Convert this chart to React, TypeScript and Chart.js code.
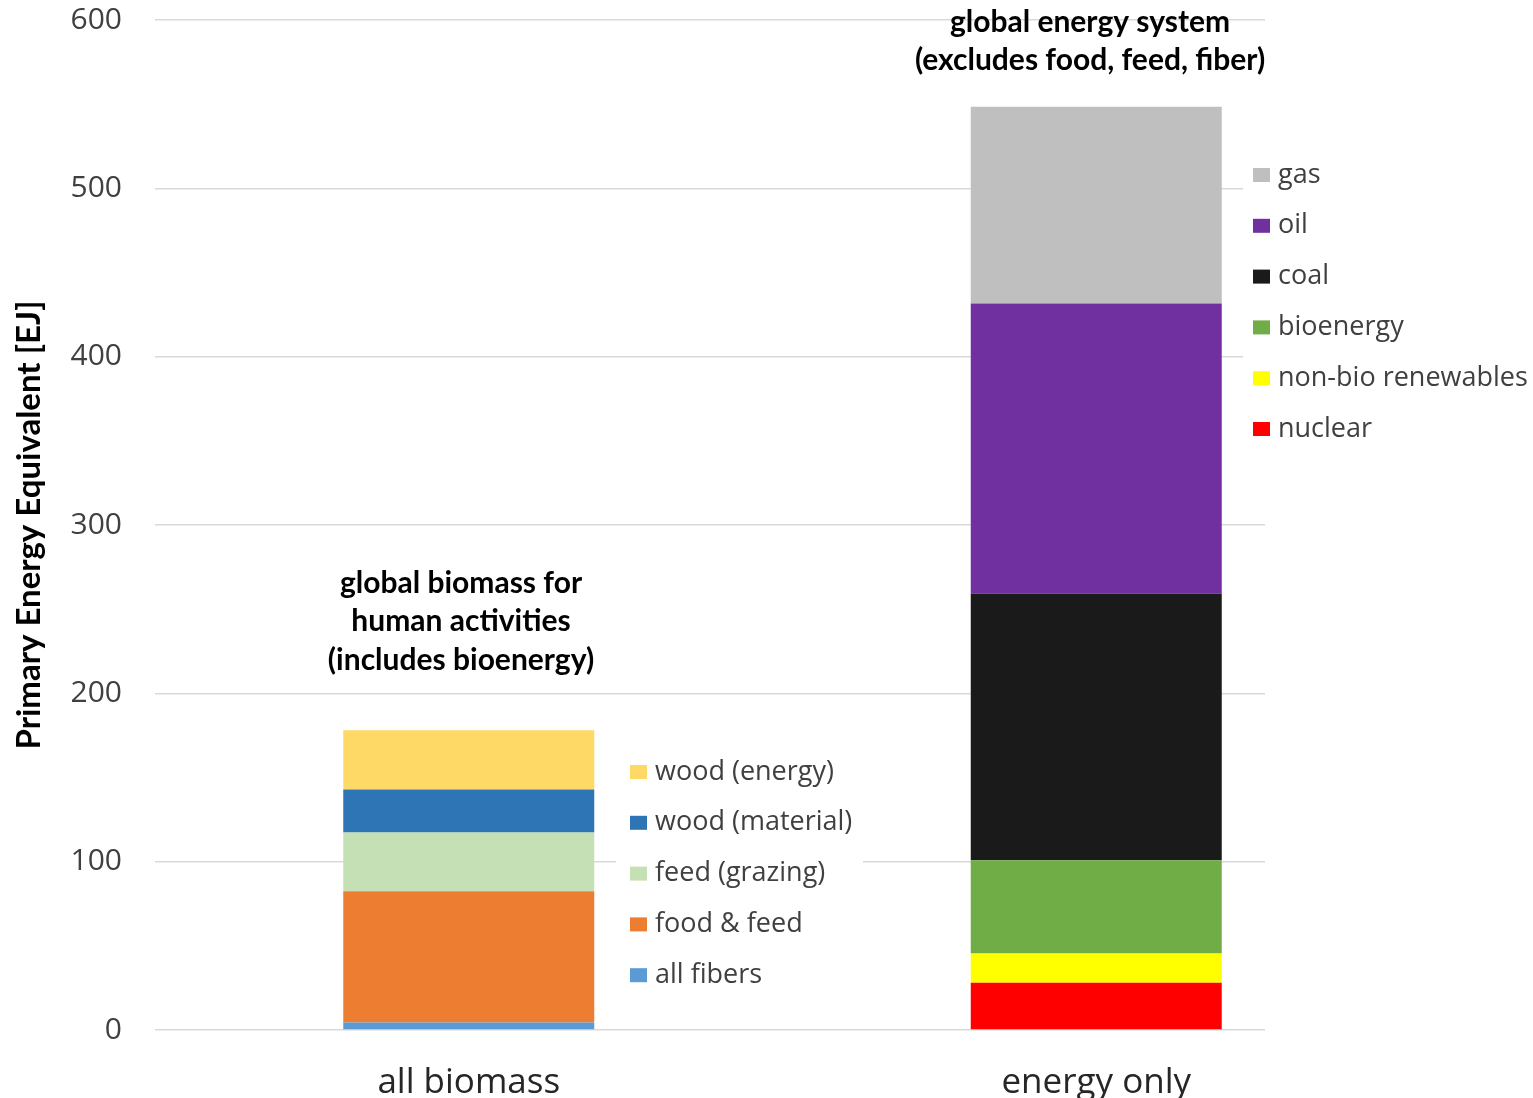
import React, { useEffect, useRef } from "react";
import { Chart, registerables } from "chart.js";

Chart.register(...registerables);

const CATEGORIES = ["all biomass", "energy only"];

const BIOMASS_SERIES = ["all fibers", "food & feed", "feed (grazing)", "wood (material)", "wood (energy)"];
const BIOMASS_VALUES = [4.5, 78, 34.8, 25.5, 35.2];
const BIOMASS_COLORS = ["#5B9BD5", "#ED7D31", "#C5E0B4", "#2E75B6", "#FFD966"];

const ENERGY_SERIES = ["nuclear", "non-bio renewables", "bioenergy", "coal", "oil", "gas"];
const ENERGY_VALUES = [28.1, 17.4, 55.4, 158.3, 172.4, 116.8];
const ENERGY_COLORS = ["#FF0000", "#FFFF00", "#70AD47", "#1A1A1A", "#7030A0", "#BFBFBF"];

const Y_TICKS = [0, 100, 200, 300, 400, 500, 600];

const BIOMASS_NOTE = ["global biomass for", "human activities", "(includes bioenergy)"];
const ENERGY_NOTE = ["global energy system", "(excludes food, feed, fiber)"];
const Y_TITLE = "Primary Energy Equivalent [EJ]";

const TEXT_FONT = "'Open Sans', sans-serif";
const BOLD_FONT = "Lato, 'Open Sans', sans-serif";

const maskPlugin = {
  id: "masks",
  beforeDatasetsDraw(chart: any) {
    const ctx = chart.ctx;
    const { bottom, right } = chart.chartArea;
    ctx.save();
    ctx.fillStyle = "#ffffff";
    // area beyond the drawn gridlines
    ctx.fillRect(1265, 0, right + 10 - 1265, bottom + 3);
    // legend boxes (white fill hiding gridlines)
    ctx.fillRect(1243, 140, 300, 310);
    ctx.fillRect(616, 745, 247, 262);
    ctx.restore();
  },
};

const annotationPlugin = {
  id: "annotations",
  afterDraw(chart: any) {
    const ctx = chart.ctx;
    ctx.save();
    const drawLegend = (names: string[], colors: string[], x: number, y0: number, step: number) => {
      const order = names.map((_, i) => i).reverse();
      ctx.font = `27px ${TEXT_FONT}`;
      ctx.textBaseline = "middle";
      ctx.textAlign = "left";
      order.forEach((idx, row) => {
        const cy = y0 + row * step;
        ctx.fillStyle = colors[idx];
        ctx.fillRect(x, cy - 7, 17, 14);
        ctx.fillStyle = "#404040";
        ctx.fillText(names[idx], x + 25, cy);
      });
    };
    drawLegend(BIOMASS_SERIES, BIOMASS_COLORS, 630, 772, 50.8);
    drawLegend(ENERGY_SERIES, ENERGY_COLORS, 1253, 175, 50.8);

    ctx.fillStyle = "#000000";
    ctx.font = `bold 30px ${BOLD_FONT}`;
    ctx.textAlign = "center";
    ctx.textBaseline = "middle";
    BIOMASS_NOTE.forEach((t, i) => ctx.fillText(t, 461, 583 + i * 38.5));
    ENERGY_NOTE.forEach((t, i) => ctx.fillText(t, 1090, 22 + i * 38.5));
    ctx.restore();
  },
};

export default function App() {
  const canvasRef = useRef<HTMLCanvasElement | null>(null);

  useEffect(() => {
    const canvas = canvasRef.current;
    if (!canvas) return;
    const datasets: any[] = [];
    BIOMASS_SERIES.forEach((name, i) => {
      datasets.push({
        label: name,
        data: [BIOMASS_VALUES[i], null],
        backgroundColor: BIOMASS_COLORS[i],
        borderWidth: 0,
      });
    });
    ENERGY_SERIES.forEach((name, i) => {
      datasets.push({
        label: name,
        data: [null, ENERGY_VALUES[i]],
        backgroundColor: ENERGY_COLORS[i],
        borderWidth: 0,
      });
    });

    const chart = new Chart(canvas, {
      type: "bar",
      data: { labels: CATEGORIES, datasets },
      options: {
        animation: false,
        responsive: false,
        devicePixelRatio: 1,
        layout: { padding: { top: 20, right: 123, bottom: 0, left: 0 } },
        datasets: { bar: { barPercentage: 0.4, categoryPercentage: 1 } },
        plugins: {
          legend: { display: false },
          tooltip: { enabled: false },
        },
        scales: {
          x: {
            stacked: true,
            grid: { display: false, drawTicks: false },
            border: { display: false },
            ticks: {
              color: "#262626",
              font: { family: TEXT_FONT, size: 35 },
              padding: 32,
              maxRotation: 0,
            },
            afterFit(scale: any) {
              scale.height = 68;
              scale.paddingLeft = 0;
              scale.paddingRight = 0;
            },
          },
          y: {
            stacked: true,
            min: 0,
            max: 600,
            afterBuildTicks(scale: any) {
              scale.ticks = Y_TICKS.map((v) => ({ value: v }));
            },
            grid: { color: "#D9D9D9", lineWidth: 1.5, drawTicks: false },
            border: { display: false },
            ticks: {
              color: "#404040",
              font: { family: TEXT_FONT, size: 30 },
              padding: 33,
            },
            title: {
              display: true,
              text: Y_TITLE,
              color: "#000000",
              font: { family: BOLD_FONT, size: 33, weight: "bold" },
              padding: { top: 10, bottom: 0 },
            },
            afterFit(scale: any) {
              scale.width = 155;
              scale.paddingTop = 0;
              scale.paddingBottom = 0;
            },
          },
        },
      },
      plugins: [maskPlugin, annotationPlugin],
    } as any);

    return () => chart.destroy();
  }, []);

  return (
    <canvas
      ref={canvasRef}
      width={1533}
      height={1098}
      style={{ position: "absolute", left: 0, top: 0, width: 1533, height: 1098, background: "#fff" }}
    />
  );
}
